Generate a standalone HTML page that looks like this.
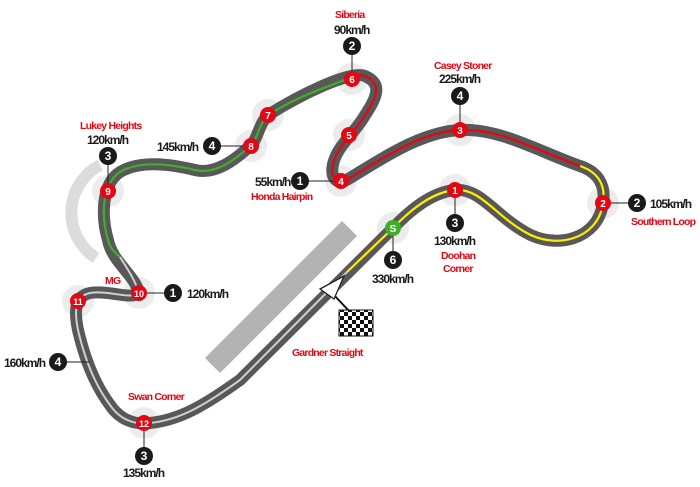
<!DOCTYPE html>
<html><head><meta charset="utf-8"><style>
html,body{margin:0;padding:0;background:#fff;}
svg{display:block;}
text{font-family:"Liberation Sans",sans-serif;font-weight:bold;}
.r{fill:#e30613;font-size:10.5px;letter-spacing:-0.8px;}
.k{fill:#1a1a1a;font-size:12px;letter-spacing:-1px;}
.n{fill:#fff;font-size:10px;text-anchor:middle;}
.b{fill:#fff;font-size:12px;text-anchor:middle;}
</style></head><body>
<svg width="700" height="487" viewBox="0 0 700 487" xmlns="http://www.w3.org/2000/svg">
<polygon points="205,358 342,221 357,236 220,373" fill="#b3b3b3"/>
<path d="M100,165 A54,54 0 0 0 96,258" fill="none" stroke="#dcdcdc" stroke-width="12"/>
<g fill="#ececec">
<circle cx="393" cy="228" r="16"/><circle cx="455" cy="190" r="16"/><circle cx="603" cy="203" r="16"/>
<circle cx="460" cy="130" r="16"/><circle cx="341" cy="181" r="16"/><circle cx="349" cy="135" r="16"/>
<circle cx="352" cy="79" r="16"/><circle cx="268" cy="115" r="16"/><circle cx="251" cy="146" r="16"/>
<circle cx="108" cy="191" r="16"/><circle cx="139" cy="293" r="16"/><circle cx="78" cy="301" r="16"/>
<circle cx="144" cy="423" r="16"/>
</g>
<path d="M393,228 C415,205 435,192 455,190 C480,188 495,215 525,232 C555,250 598,240 603,203 C606,185 598,172 580,166 C540,152 500,128 460,130 C420,132 380,160 350,178 C335,188 328,175 335,158 C340,145 352,135 362,120 C375,100 385,85 365,76 C350,70 300,95 268,115 C258,125 258,140 250,146 C235,160 215,175 195,170 C170,164 140,160 120,172 C100,185 102,220 108,240 C112,262 135,275 139,293 C130,300 110,290 90,293 C75,296 74,310 78,330 C85,360 95,385 110,405 C120,420 135,425 150,423 C180,420 205,405 240,380 L393,228 Z" fill="none" stroke="#585858" stroke-width="12" stroke-linejoin="round"/>
<path d="M347,272 L393,228 C415,205 435,192 455,190 C480,188 495,215 525,232 C555,250 598,240 603,203 C606,185 598,172 580,166" fill="none" stroke="#ffed00" stroke-width="2.2"/>
<path d="M580,166 C540,152 500,128 460,130 C420,132 380,160 350,178 C335,188 328,175 335,158 C340,145 352,135 362,120 C375,100 385,85 365,76 C360,74 356,75 352,77" fill="none" stroke="#e30613" stroke-width="2.2"/>
<path d="M352,77 C320,90 300,95 268,115 C258,125 258,140 250,146 C235,160 215,175 195,170 C170,164 140,160 120,172 C100,185 102,220 108,240 C110,248 114,252 120,257" fill="none" stroke="#3fae29" stroke-width="2.2"/>
<path d="M120,257 C127,268 135,280 139,293 C130,300 110,290 90,293 C75,296 74,310 78,330 C85,360 95,385 110,405 C120,420 135,425 150,423 C180,420 205,405 240,380 L347,272" fill="none" stroke="#d0d0d0" stroke-width="2"/>
<line x1="333" y1="294" x2="350" y2="312" stroke="#111" stroke-width="2"/>
<polygon points="320,289 344,276 334,299" fill="#fff" stroke="#222" stroke-width="1.3"/>
<defs><pattern id="ch" width="8" height="8" patternUnits="userSpaceOnUse"><rect width="8" height="8" fill="#fff"/><rect width="4" height="4" fill="#111"/><rect x="4" y="4" width="4" height="4" fill="#111"/></pattern></defs>
<rect x="339" y="310" width="34" height="26" fill="url(#ch)" stroke="#111" stroke-width="1"/>
<g stroke="#222" stroke-width="1">
<line x1="393" y1="228" x2="393" y2="258"/><line x1="455" y1="190" x2="455" y2="222"/>
<line x1="603" y1="203" x2="636" y2="203"/><line x1="460" y1="130" x2="460" y2="96"/>
<line x1="341" y1="181" x2="300" y2="181"/><line x1="352" y1="79" x2="352" y2="46"/>
<line x1="251" y1="146" x2="212" y2="146"/><line x1="108" y1="191" x2="108" y2="156"/>
<line x1="139" y1="293" x2="173" y2="293"/><line x1="90" y1="362" x2="58" y2="362"/>
<line x1="144" y1="423" x2="144" y2="455"/>
</g>
<g fill="#e30613">
<circle cx="455" cy="190" r="8"/><circle cx="603" cy="203" r="8"/><circle cx="460" cy="130" r="8"/>
<circle cx="341" cy="181" r="8"/><circle cx="349" cy="135" r="8"/><circle cx="352" cy="79" r="8"/>
<circle cx="268" cy="115" r="8"/><circle cx="251" cy="146" r="8"/><circle cx="108" cy="191" r="8"/>
<circle cx="139" cy="293" r="8"/><circle cx="78" cy="301" r="8"/><circle cx="144" cy="423" r="8"/>
</g>
<circle cx="393" cy="228" r="8" fill="#3fae29"/>
<text class="n" x="393" y="232">S</text>
<text class="n" x="455" y="194">1</text><text class="n" x="603" y="207">2</text><text class="n" x="460" y="134">3</text>
<text class="n" x="341" y="185">4</text><text class="n" x="349" y="139">5</text><text class="n" x="352" y="83">6</text>
<text class="n" x="268" y="119">7</text><text class="n" x="251" y="150">8</text><text class="n" x="108" y="195">9</text>
<text class="n" x="139" y="297" style="font-size:9px">10</text><text class="n" x="78" y="305" style="font-size:9px">11</text><text class="n" x="144" y="427" style="font-size:9px">12</text>
<g fill="#1a1a1a">
<circle cx="393" cy="260" r="9"/><circle cx="455" cy="223" r="9"/><circle cx="637" cy="203" r="9"/>
<circle cx="460" cy="96" r="9"/><circle cx="300" cy="181" r="9"/><circle cx="352" cy="46" r="9"/>
<circle cx="212" cy="146" r="9"/><circle cx="108" cy="156" r="9"/><circle cx="173" cy="293" r="9"/>
<circle cx="58" cy="362" r="9"/><circle cx="144" cy="456" r="9"/>
</g>
<text class="b" x="393" y="264">6</text><text class="b" x="455" y="227">3</text><text class="b" x="637" y="207">2</text>
<text class="b" x="460" y="100">4</text><text class="b" x="300" y="185">1</text><text class="b" x="352" y="50">2</text>
<text class="b" x="212" y="150">4</text><text class="b" x="108" y="160">3</text><text class="b" x="173" y="297">1</text>
<text class="b" x="58" y="366">4</text><text class="b" x="144" y="460">3</text>
<text class="k" x="372" y="283">330km/h</text>
<text class="k" x="434" y="245">130km/h</text>
<text class="k" x="650" y="208">105km/h</text>
<text class="k" x="439" y="83">225km/h</text>
<text class="k" x="255" y="186">55km/h</text>
<text class="k" x="334" y="34">90km/h</text>
<text class="k" x="157" y="151">145km/h</text>
<text class="k" x="87" y="144">120km/h</text>
<text class="k" x="187" y="298">120km/h</text>
<text class="k" x="4" y="367">160km/h</text>
<text class="k" x="123" y="477">135km/h</text>
<text class="r" x="335" y="18">Siberia</text>
<text class="r" x="434" y="69">Casey Stoner</text>
<text class="r" x="80" y="129">Lukey Heights</text>
<text class="r" x="251" y="200">Honda Hairpin</text>
<text class="r" x="631" y="225">Southern Loop</text>
<text class="r" x="441" y="259">Doohan</text>
<text class="r" x="443" y="272">Corner</text>
<text class="r" x="105" y="284">MG</text>
<text class="r" x="292" y="356">Gardner Straight</text>
<text class="r" x="128" y="400">Swan Corner</text>
</svg>
</body></html>
